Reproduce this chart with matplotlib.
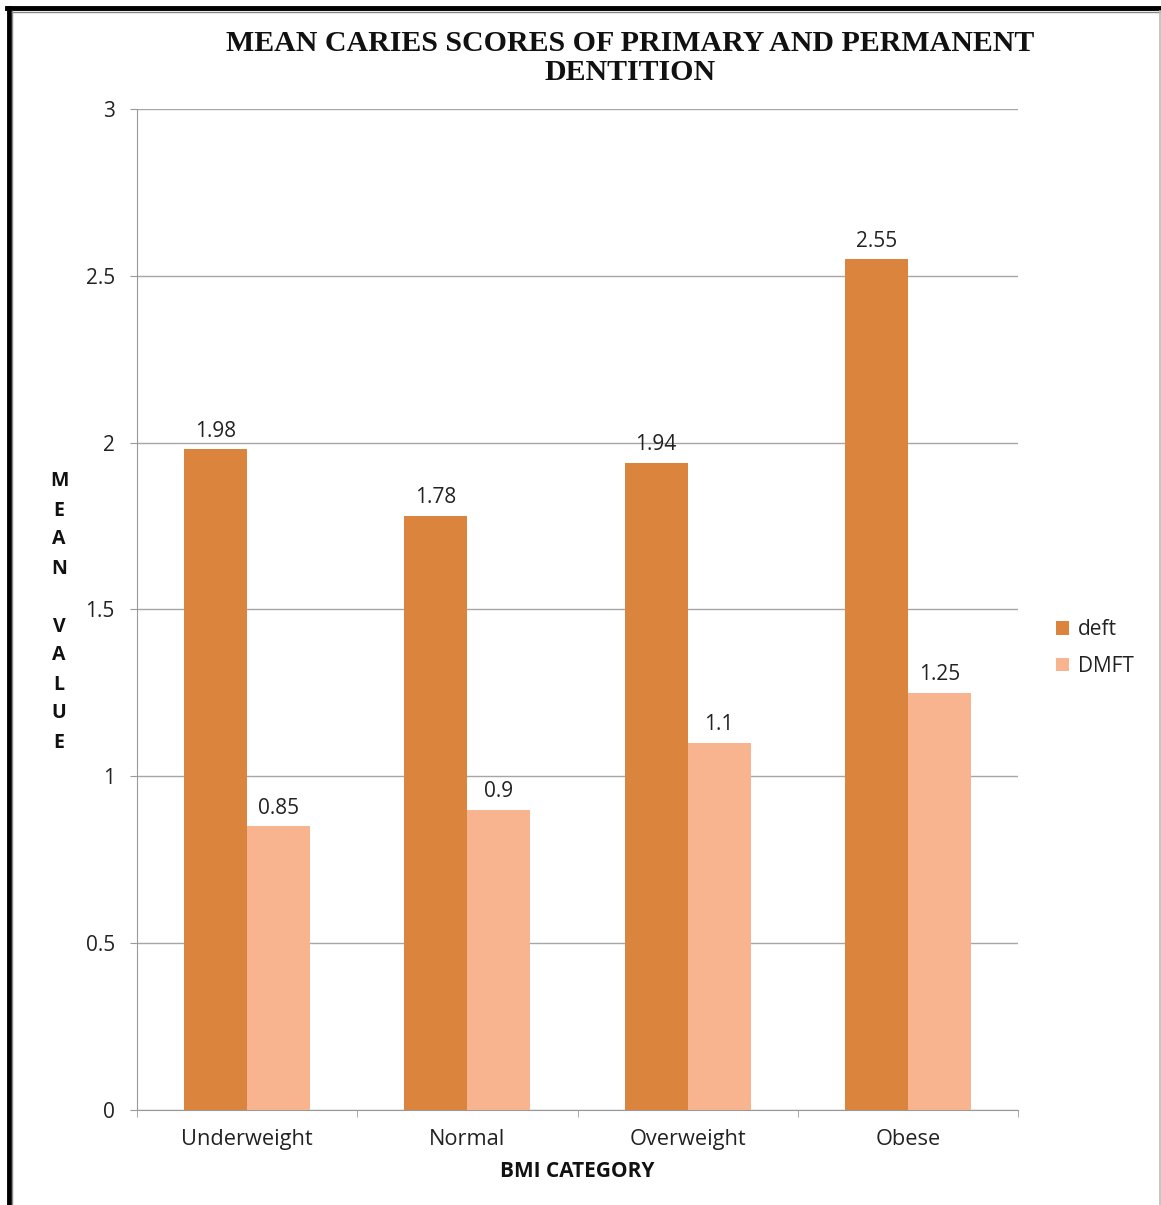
import matplotlib
matplotlib.use("Agg")
import matplotlib.pyplot as plt
from matplotlib.lines import Line2D
import numpy as np

categories = ["Underweight", "Normal", "Overweight", "Obese"]
deft = [1.98, 1.78, 1.94, 2.55]
dmft = [0.85, 0.9, 1.1, 1.25]
series_names = ["deft", "DMFT"]
yticks = [0, 0.5, 1, 1.5, 2, 2.5, 3]
ytick_labels = ["0", "0.5", "1", "1.5", "2", "2.5", "3"]

W, H = 1161, 1205
fig = plt.figure(figsize=(W / 100, H / 100), dpi=100)
ax = fig.add_axes([137 / W, 1 - 1110 / H, (1018 - 137) / W, (1110 - 109) / H])

c_deft = "#DB843D"
c_dmft = "#F8B48E"
x = np.arange(len(categories))
w = 0.286
b1 = ax.bar(x - w / 2, deft, w, color=c_deft, label=series_names[0], zorder=3)
b2 = ax.bar(x + w / 2, dmft, w, color=c_dmft, label=series_names[1], zorder=3)

fs = 15
tfont = dict(family="Open Sans", size=fs, color="#222222")
ax.bar_label(b1, labels=[f"{v:g}" for v in deft], padding=5.5, **tfont)
ax.bar_label(b2, labels=[f"{v:g}" for v in dmft], padding=5.5, **tfont)

ax.set_xlim(-0.5, len(categories) - 0.5)
ax.set_ylim(0, 3)
ax.set_yticks(yticks)
ax.set_yticklabels(ytick_labels, **tfont)
ax.set_xticks(x)
ax.set_xticklabels(categories, family="Open Sans", size=15.7, color="#222222")
ax.set_xticks(np.arange(len(categories) + 1) - 0.5, minor=True)
ax.tick_params(axis="x", which="major", length=0, pad=13.5)
ax.tick_params(axis="x", which="minor", length=5, color="#999999", direction="out")
ax.tick_params(axis="y", length=5, color="#999999", pad=11)
ax.grid(axis="y", color="#a6a6a6", linewidth=1, zorder=0)
for s in ["top", "right"]:
    ax.spines[s].set_visible(False)
ax.spines["left"].set_color("#999999")
ax.spines["bottom"].set_color("#999999")

ax.set_xlabel("BMI CATEGORY", family="Open Sans", fontweight="bold", size=fs,
              color="#111111", labelpad=8)

fig.text(59 / W, 1 - 612 / H, "M\nE\nA\nN\n\nV\nA\nL\nU\nE", ha="center", va="center",
         family="Open Sans", fontweight="bold", size=14, linespacing=1.6, color="#111111")

fig.text(630 / W, 1 - 58 / H, "MEAN CARIES SCORES OF PRIMARY AND PERMANENT\nDENTITION",
         ha="center", va="center", family="Liberation Serif", fontweight="bold", size=21.5,
         linespacing=1.08, color="#111111")

leg = fig.legend(handles=[b1, b2], labels=series_names, loc="center left",
                 bbox_to_anchor=(1037 / W, 1 - 648 / H), frameon=False,
                 prop=dict(family="Open Sans", size=fs), handlelength=0.65,
                 handleheight=0.65, handletextpad=0.4, labelspacing=0.75)
for t in leg.get_texts():
    t.set_color("#222222")

# page border
fig.add_artist(Line2D([9 / W, 9 / W], [0, 1 - 8 / H], color="black", linewidth=3.5, transform=fig.transFigure))
fig.add_artist(Line2D([7 / W, 1], [1 - 8 / H, 1 - 8 / H], color="black", linewidth=3.5, transform=fig.transFigure))
fig.add_artist(Line2D([12 / W, 12 / W], [0, 1 - 11 / H], color="#888888", linewidth=1, transform=fig.transFigure))
fig.add_artist(Line2D([12 / W, 1], [1 - 11.5 / H, 1 - 11.5 / H], color="#888888", linewidth=1, transform=fig.transFigure))
fig.add_artist(Line2D([1159.5 / W, 1159.5 / W], [0, 1 - 11 / H], color="#bbbbbb", linewidth=1.2, transform=fig.transFigure))

fig.savefig("out.png", dpi=100, facecolor="white")
